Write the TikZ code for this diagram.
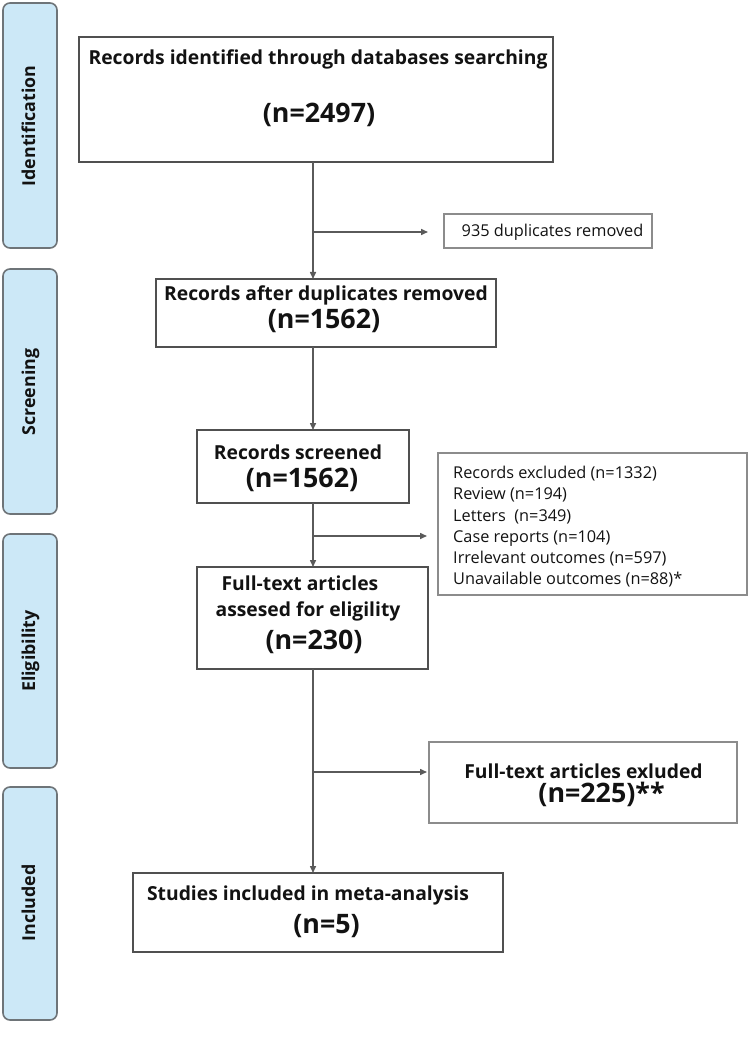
\documentclass[tikz,border=0pt]{standalone}
\usepackage{fontspec}
\setmainfont{Open Sans}
\usetikzlibrary{arrows.meta}
\definecolor{barfill}{HTML}{CCE8F7}
\definecolor{barline}{HTML}{6E7478}
\definecolor{boxline}{HTML}{505050}
\definecolor{softline}{HTML}{8C8C8C}
\definecolor{ink}{HTML}{121212}
\definecolor{conn}{HTML}{5A5A5A}
\tikzset{
  phase/.style={draw=barline, line width=1.6pt, fill=barfill, rounded corners=7pt, inner sep=0pt, outer sep=0pt},
  phaselabel/.style={rotate=90, anchor=base, font=\bfseries\fontsize{17.8}{20}\selectfont, text=ink, inner sep=0pt},
  mainbox/.style={draw=boxline, line width=1.6pt, inner sep=0pt, outer sep=0pt},
  sidebox/.style={draw=softline, line width=1.4pt, inner sep=0pt, outer sep=0pt},
  ttl/.style={anchor=base, inner sep=0pt, text=ink, font=\bfseries\fontsize{19.3}{22}\selectfont},
  num/.style={anchor=base, inner sep=0pt, text=ink, font=\bfseries\fontsize{26.8}{30}\selectfont},
  small/.style={anchor=base west, inner sep=0pt, text=ink, font=\fontsize{16.3}{19}\selectfont},
  flow/.style={draw=conn, line width=1.5pt, -{Triangle[length=7pt,width=6pt]}}
}
\begin{document}
\begin{tikzpicture}[x=1pt,y=-1pt]
\useasboundingbox (0,0) rectangle (749,1048);
% phase bars
\node[phase, minimum width=54, minimum height=245] (p1) at (30,125.5) {};
\node[phase, minimum width=54, minimum height=245] (p2) at (30,391.5) {};
\node[phase, minimum width=54, minimum height=234] (p3) at (30,651) {};
\node[phase, minimum width=54, minimum height=233] (p4) at (30,903.5) {};
\node[phaselabel] (l1) at (35,126) {Identification};
\node[phaselabel] (l2) at (35,392) {Screening};
\node[phaselabel] (l3) at (35,651) {Eligibility};
\node[phaselabel] (l4) at (35,903) {Included};
% boxes
\node[mainbox, minimum width=474, minimum height=125] (b1) at (316,99.5) {};
\node[ttl] (t1a) at (318,65) {Records identified through databases searching};
\node[num] (t1b) at (319,123) {(n=2497)};
\node[sidebox, minimum width=208, minimum height=34] (dup) at (548,231) {};
\node[small, anchor=base] (tdup) at (552.5,237) {935 duplicates removed};
\node[mainbox, minimum width=340, minimum height=68] (b2) at (326,313) {};
\node[ttl] (t2a) at (326,300) {Records after duplicates removed};
\node[num] (t2b) at (324,328) {(n=1562)};
\node[mainbox, minimum width=212, minimum height=73] (b3) at (303,466.5) {};
\node[ttl] (t3a) at (298,459) {Records screened};
\node[num] (t3b) at (302,487) {(n=1562)};
\node[sidebox, minimum width=309, minimum height=142] (x1) at (592.5,524) {};
\node[small] (x1a) at (453,478) {Records excluded (n=1332)};
\node[small] (x1b) at (453,499) {Review (n=194)};
\node[small] (x1c) at (453,521) {Letters\ \ (n=349)};
\node[small] (x1d) at (453,542) {Case reports (n=104)};
\node[small] (x1e) at (453,563) {Irrelevant outcomes (n=597)};
\node[small] (x1f) at (453,584) {Unavailable outcomes (n=88)*};
\node[mainbox, minimum width=231, minimum height=102] (b4) at (312.5,618) {};
\node[ttl] (t4a) at (300,590) {Full-text articles};
\node[ttl] (t4b) at (308,616) {assesed for eligility};
\node[num] (t4c) at (314,649) {(n=230)};
\node[sidebox, minimum width=308, minimum height=81] (x2) at (583,782.5) {};
\node[ttl] (x2a) at (583.5,778) {Full-text articles exluded};
\node[num] (x2b) at (601.5,802) {(n=225)**};
\node[mainbox, minimum width=370, minimum height=79] (b6) at (318,912.5) {};
\node[ttl] (t6a) at (308,900) {Studies included in meta-analysis};
\node[num] (t6b) at (326.5,933) {(n=5)};
% spine
\coordinate (sp) at (313,0);
\coordinate (j1) at (313,232);
\coordinate (j2) at (313,536);
\coordinate (j3) at (313,772);
\draw[flow] (b1.south -| sp) -- (b2.north -| sp);
\draw[flow] (j1) -- ([xshift=-16pt]dup.west |- j1);
\draw[flow] (b2.south -| sp) -- (b3.north -| sp);
\draw[flow] (b3.south -| sp) -- (b4.north -| sp);
\draw[flow] (j2) -- ([xshift=-11pt]x1.west |- j2);
\draw[flow] (b4.south -| sp) -- (b6.north -| sp);
\draw[flow] (j3) -- ([xshift=-2pt]x2.west |- j3);
\end{tikzpicture}
\end{document}
